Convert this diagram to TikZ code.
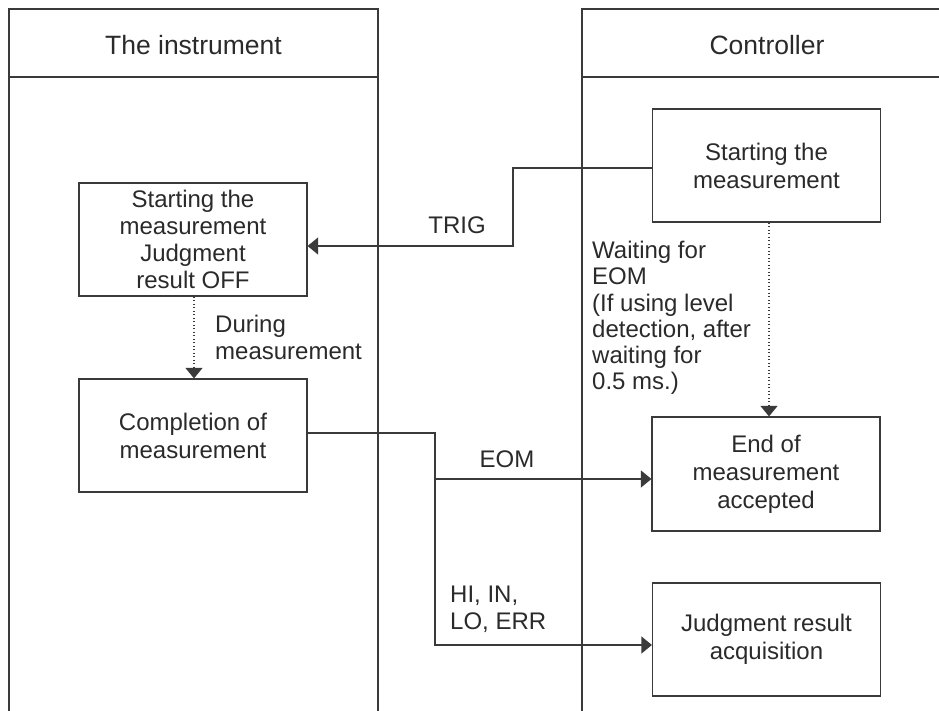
\documentclass[tikz,border=0pt]{standalone}
\usepackage{fontspec}
\setmainfont{Liberation Sans}
\usetikzlibrary{arrows.meta,calc}
\definecolor{ink}{HTML}{2A2A2A}
\definecolor{edge}{HTML}{3A3A3A}
\begin{document}
\begin{tikzpicture}[x=1pt,y=-1pt,
  lane/.style={draw=edge,line width=1.2pt},
  boxnode/.style={draw=edge,line width=1.2pt,minimum width=228pt,minimum height=113pt,
    align=center,text=ink,inner sep=0pt,font=\fontsize{24}{28}\selectfont},
  headnode/.style={text=ink,inner sep=0pt,font=\fontsize{26.5}{30}\selectfont},
  lbl/.style={text=ink,inner sep=0pt,font=\fontsize{24}{27}\selectfont,align=left},
  arr/.style={draw=edge,line width=1.2pt,-{Triangle[length=10.5pt,width=17pt]}},
  dotarr/.style={draw=edge,line width=1.2pt,dash pattern=on 1.3pt off 2.2pt,-{Triangle[length=10.5pt,width=17pt,fill=edge]}}
]
\useasboundingbox (0,0) rectangle (939,711);
% lanes
\draw[lane] (9,711) -- (9,9) -- (378,9) -- (378,711);
\draw[lane] (9,77) -- (378,77);
\draw[lane] (582,711) -- (582,9) -- (939,9);
\draw[lane] (582,77) -- (939,77);
\node[headnode] (hinst) at (193.5,45) {The instrument};
\node[headnode] (hctl) at (767,45) {Controller};
% boxes
\node[boxnode] (ctlstart) at (766.5,165.5) {Starting the\\measurement};
\node[boxnode,font=\fontsize{24}{27}\selectfont] (instart) at (193,239.5) {Starting the\\measurement\\Judgment\\result OFF};
\node[boxnode] (complete) at (193,435.5) {Completion of\\measurement};
\node[boxnode,minimum height=114pt] (eomacc) at (766,474) {End of\\measurement\\accepted};
\node[boxnode] (judg) at (766.5,639.5) {Judgment result\\acquisition};
% TRIG
\coordinate (tbend) at (513,168);
\draw[arr] (ctlstart.west |- tbend) -- (tbend) |- (instart.east |- 0,246);
\node[lbl] (trig) at (457,225) {TRIG};
% during measurement
\draw[dotarr] ([xshift=1pt]instart.south) -- ([xshift=1pt]complete.north);
\node[lbl,anchor=west] (during) at (215,337) {During\\measurement};
% waiting
\draw[dotarr] ([xshift=2.5pt]ctlstart.south) -- ([xshift=2.5pt]ctlstart.south |- eomacc.north);
\node[lbl,anchor=west,font=\fontsize{24}{26.2}\selectfont] (wait) at (592,318) {Waiting for\\EOM\\(If using level\\detection, after\\waiting for\\0.5 ms.)};
% EOM
\coordinate (split) at (435,479);
\draw[arr] (complete.east |- 0,433) -| (split) -- (eomacc.west |- split);
\node[lbl] (eom) at (507,459) {EOM};
% HI IN LO ERR
\draw[arr] (split) |- (judg.west |- 0,645);
\node[lbl,anchor=west] (hilo) at (450,609) {HI, IN,\\LO, ERR};
\end{tikzpicture}
\end{document}
